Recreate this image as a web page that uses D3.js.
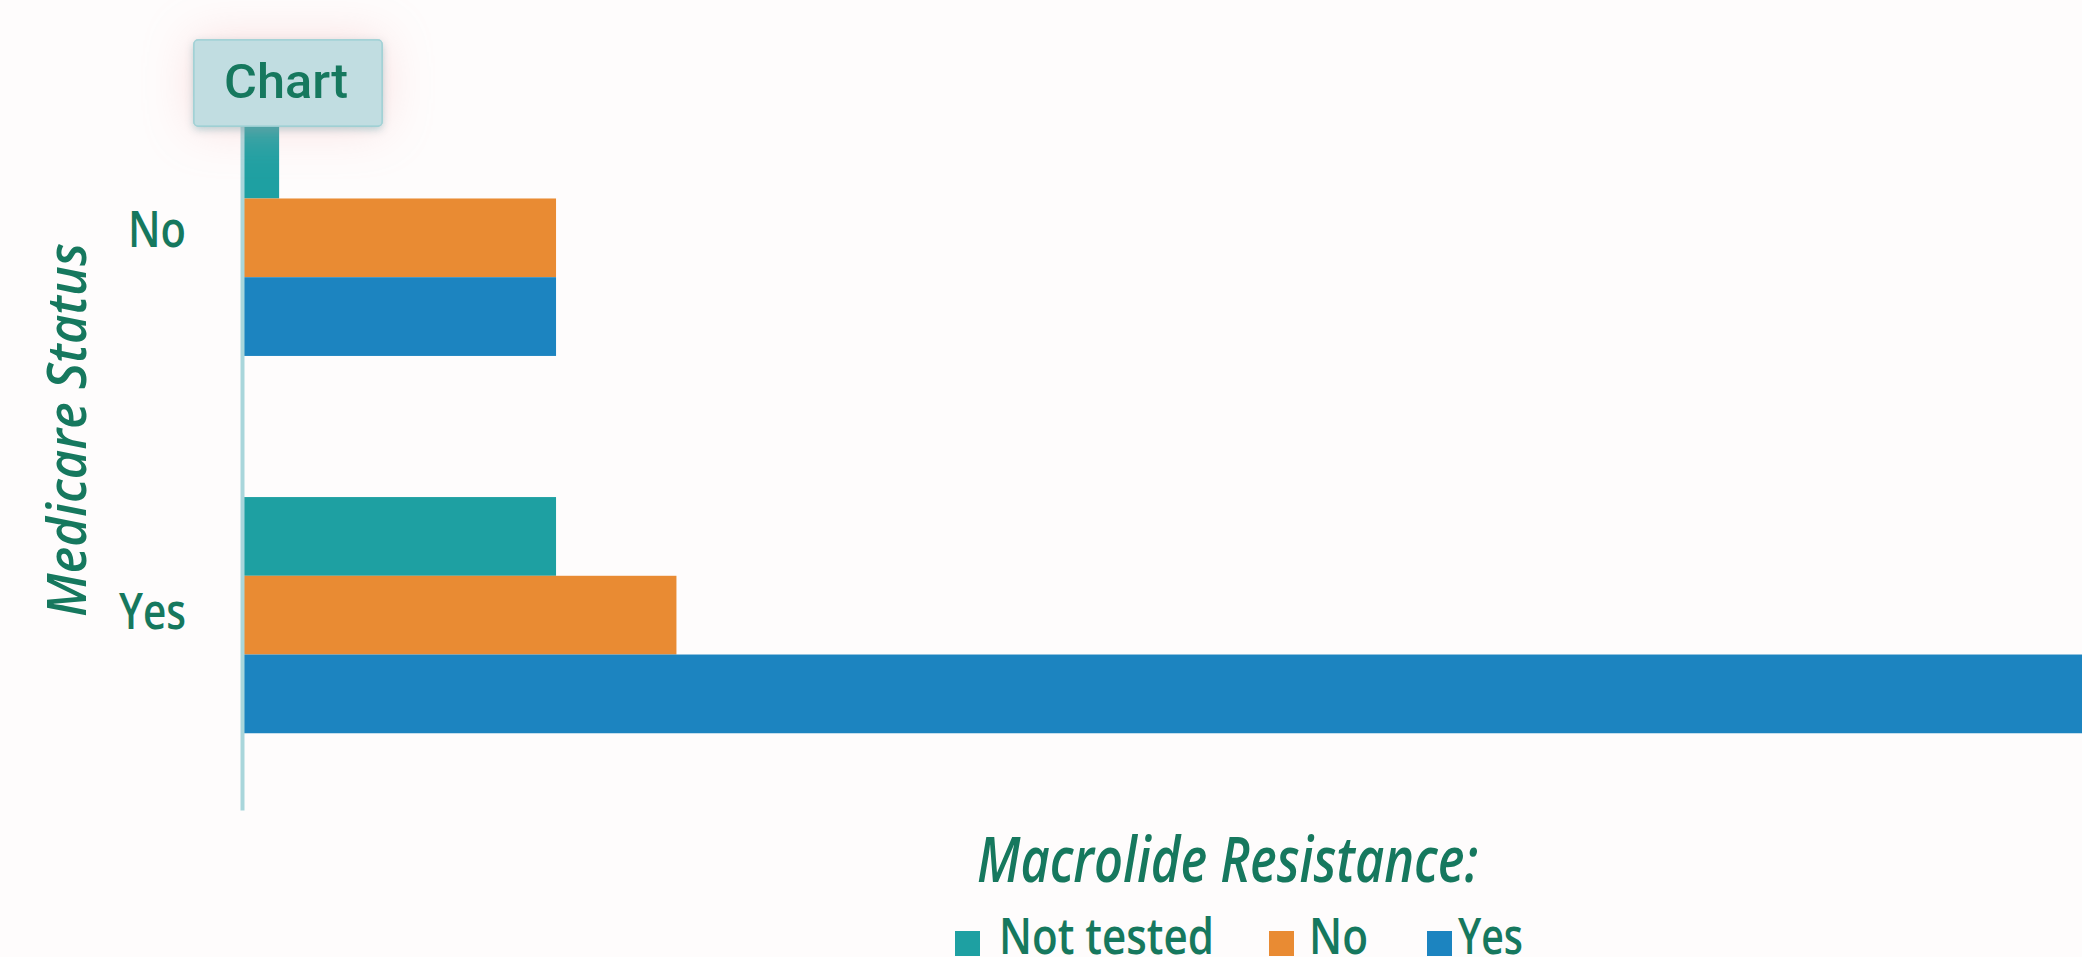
<!DOCTYPE html>
<html>
<head>
<meta charset="utf-8">
<script src="https://cdn.jsdelivr.net/npm/d3@7"></script>
<style>
  html, body { margin: 0; padding: 0; background: #fefcfc; overflow: hidden; }
  svg { display: block; }
</style>
</head>
<body>
<svg id="chart" width="2082" height="957"></svg>
<script>
// ---- data ----
const categories = ["No", "Yes"];                 // Medicare Status
const seriesNames = ["Not tested", "No", "Yes"];  // Macrolide Resistance
const notTestedValues = [3, 26];
const noValues = [26, 36];
const yesValues = [26, 160];
const xDomainMax = 160;
const seriesColors = ["#1ea0a2", "#e98b33", "#1c84c0"];
const textColor = "#16785e";

const seriesValues = [notTestedValues, noValues, yesValues];
const rows = categories.map((c, i) => ({
  category: c,
  values: seriesNames.map((s, j) => ({ series: s, value: seriesValues[j][i], color: seriesColors[j] }))
}));

const svg = d3.select("#chart");

const defs = svg.append("defs");
const f = defs.append("filter").attr("id", "boxShadow")
  .attr("x", "-60%").attr("y", "-80%").attr("width", "220%").attr("height", "260%");
f.append("feDropShadow").attr("dx", 0).attr("dy", 0).attr("stdDeviation", 24)
  .attr("flood-color", "#f4b0b0").attr("flood-opacity", 0.4).attr("result", "glow");
f.append("feDropShadow").attr("in", "SourceGraphic").attr("dx", 0).attr("dy", 3).attr("stdDeviation", 4)
  .attr("flood-color", "#2aa0a8").attr("flood-opacity", 0.45).attr("result", "sh");
const m = f.append("feMerge");
m.append("feMergeNode").attr("in", "glow");
m.append("feMergeNode").attr("in", "sh");

// ---- scales ----
const x0 = 243;
const x = d3.scaleLinear().domain([0, xDomainMax]).range([x0, x0 + xDomainMax * 12.04]);
const y = d3.scaleBand().domain(categories).range([43, 810]).paddingInner(0.374).paddingOuter(0.2034);
const ySub = d3.scaleBand().domain(seriesNames).range([0, y.bandwidth()]).padding(0);

// ---- bars ----
const groups = svg.append("g").selectAll("g").data(rows).join("g")
  .attr("transform", d => `translate(0,${y(d.category)})`);
groups.selectAll("rect").data(d => d.values).join("rect")
  .attr("x", x(0))
  .attr("y", d => ySub(d.series))
  .attr("height", ySub.bandwidth())
  .attr("width", d => x(d.value) - x(0))
  .attr("fill", d => d.color);

// ---- y axis ----
const yAxis = d3.axisLeft(y).tickSize(0).tickSizeOuter(0).tickPadding(56);
const ya = svg.append("g").attr("transform", "translate(242,0)").call(yAxis);
ya.select(".domain").attr("stroke", "#a9d6db").attr("stroke-width", 4);
const labelWidths = { "No": 58, "Yes": 67 };
const labelOffsets = { "No": 9, "Yes": 14 };
ya.selectAll(".tick text")
  .attr("fill", textColor)
  .attr("font-family", "'Open Sans', sans-serif")
  .attr("font-weight", 600)
  .attr("font-size", 51)
  .attr("dy", null)
  .attr("y", d => labelOffsets[d])
  .attr("textLength", d => labelWidths[d])
  .attr("lengthAdjust", "spacingAndGlyphs");

// ---- y axis title ----
svg.append("text")
  .attr("transform", "translate(86,430) rotate(-90)")
  .attr("text-anchor", "middle")
  .attr("fill", textColor)
  .attr("font-family", "'Open Sans', sans-serif")
  .attr("font-style", "italic")
  .attr("font-weight", 600)
  .attr("font-size", 54)
  .attr("textLength", 374)
  .attr("lengthAdjust", "spacingAndGlyphs")
  .text("Medicare Status");

// ---- "Chart" box ----
const box = svg.append("g");
box.append("rect")
  .attr("x", 194).attr("y", 40).attr("width", 188).attr("height", 86).attr("rx", 4)
  .attr("fill", "#c1dde1").attr("stroke", "#a3d2d6").attr("stroke-width", 1.5)
  .attr("filter", "url(#boxShadow)");
box.append("text")
  .attr("x", 286).attr("y", 98)
  .attr("text-anchor", "middle")
  .attr("fill", textColor)
  .attr("font-family", "Roboto, sans-serif")
  .attr("font-weight", 500)
  .attr("font-size", 48)
  .attr("textLength", 124)
  .attr("lengthAdjust", "spacingAndGlyphs")
  .text("Chart");

// ---- legend ----
svg.append("text")
  .attr("x", 977).attr("y", 882)
  .attr("fill", textColor)
  .attr("font-family", "'Open Sans', sans-serif")
  .attr("font-style", "italic")
  .attr("font-weight", 600)
  .attr("font-size", 64)
  .attr("textLength", 501)
  .attr("lengthAdjust", "spacingAndGlyphs")
  .text("Macrolide Resistance:");

const legendSquareX = [955, 1269, 1427];
const legendTextX = [999, 1309, 1458];
const legendTextW = [215, 59, 65];
const leg = svg.append("g").selectAll("g").data(seriesNames).join("g");
leg.append("rect")
  .attr("x", (d, i) => legendSquareX[i]).attr("y", 931)
  .attr("width", 25).attr("height", 25)
  .attr("fill", (d, i) => seriesColors[i]);
leg.append("text")
  .attr("x", (d, i) => legendTextX[i]).attr("y", 954)
  .attr("fill", textColor)
  .attr("font-family", "'Open Sans', sans-serif")
  .attr("font-weight", 600)
  .attr("font-size", 50)
  .attr("textLength", (d, i) => legendTextW[i])
  .attr("lengthAdjust", "spacingAndGlyphs")
  .text(d => d);
</script>
</body>
</html>
